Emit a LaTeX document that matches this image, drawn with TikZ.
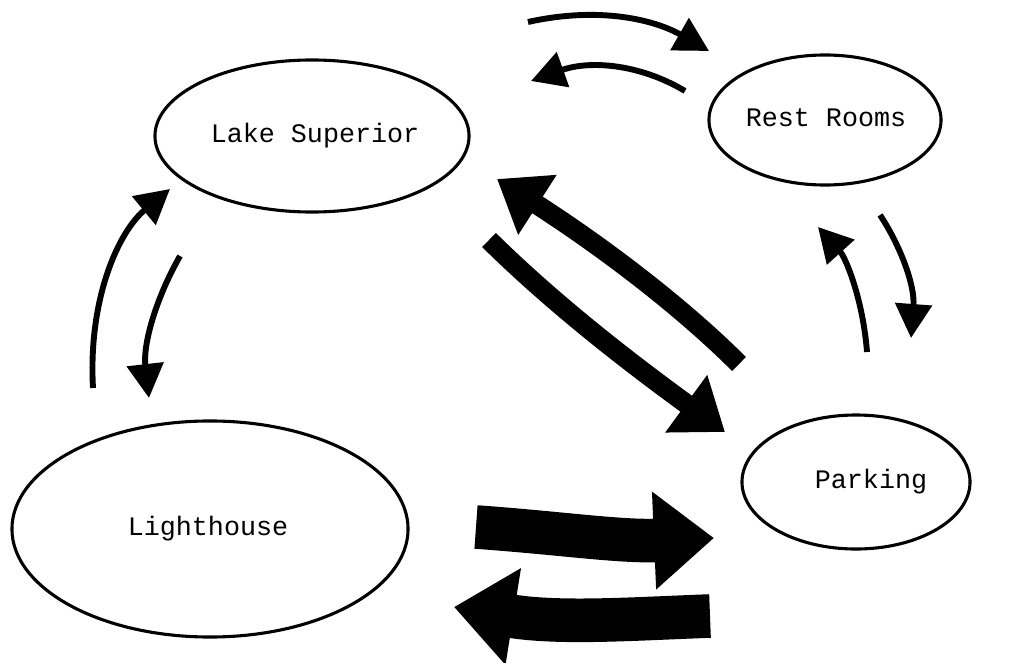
\documentclass[tikz,border=0pt]{standalone}
\usepackage{fontspec}
\setmonofont{Liberation Mono}
\usetikzlibrary{arrows.meta,shapes.geometric}
\begin{document}
\begin{tikzpicture}[x=0.025cm,y=-0.025cm,
  place/.style={draw,ellipse,line width=2.2pt,inner sep=0pt},
  lbl/.style={font=\ttfamily\fontsize{19}{22}\selectfont,anchor=base,inner sep=0pt},
  thin/.style={line width=4.2pt,-{Triangle[length=0.85cm,width=0.9cm]}},
  mid/.style={line width=14pt,-{Triangle[length=1.2cm,width=1.7cm]}},
  fat/.style={line width=31pt,-{Triangle[length=1.5cm,width=2.35cm]}}]
\useasboundingbox (0,0) rectangle (1031,663);
% places
\node[place,minimum width=7.85cm,minimum height=3.8cm] (ls) at (312,136) {};
\node[place,minimum width=5.8cm,minimum height=3.25cm] (rr) at (825,120) {};
\node[place,minimum width=5.7cm,minimum height=3.35cm] (pk) at (856,482) {};
\node[place,minimum width=9.9cm,minimum height=5.4cm] (lh) at (210,529) {};
% labels
\node[lbl] (lsT) at (315,143) {Lake Superior};
\node[lbl] (rrT) at (826,127) {Rest Rooms};
\node[lbl] (pkT) at (871,488) {Parking};
\node[lbl] (lhT) at (208,535) {Lighthouse};
% free ends of connectors
\coordinate (a1s) at (528,22);   \coordinate (a1e) at (709,51);
\coordinate (a2s) at (685,91);   \coordinate (a2e) at (531,81);
\coordinate (a3s) at (867,352);  \coordinate (a3e) at (818,227);
\coordinate (a4s) at (880,215);  \coordinate (a4e) at (911,338);
\coordinate (a5s) at (93,388);   \coordinate (a5e) at (170,189);
\coordinate (a6s) at (180,256);  \coordinate (a6e) at (149,398);
\coordinate (b1s) at (739,364);  \coordinate (b1e) at (497,179);
\coordinate (b2s) at (489,240);  \coordinate (b2e) at (725,432);
\coordinate (c1s) at (476,527);  \coordinate (c1e) at (714,538);
\coordinate (c2s) at (710,616);  \coordinate (c2e) at (454,607);
% thin arrows
\draw[thin] (a1s) .. controls (600,6) and (655,20) .. (a1e);
\draw[thin] (a2s) .. controls (640,64) and (590,60) .. (a2e);
\draw[thin] (a3s) .. controls (863,300) and (846,258) .. (a3e);
\draw[thin] (a4s) .. controls (900,245) and (915,285) .. (a4e);
\draw[thin] (a5s) .. controls (88,300) and (118,232) .. (a5e);
\draw[thin] (a6s) .. controls (155,300) and (143,345) .. (a6e);
% thick diagonal arrows
\draw[mid] (b1s) .. controls (680,305) and (600,245) .. (b1e);
\draw[mid] (b2s) .. controls (560,310) and (640,370) .. (b2e);
% fat horizontal arrows
\draw[fat] (c1s) .. controls (560,533) and (620,542) .. (c1e);
\draw[fat] (c2s) .. controls (630,619) and (560,624) .. (c2e);
\end{tikzpicture}
\end{document}
